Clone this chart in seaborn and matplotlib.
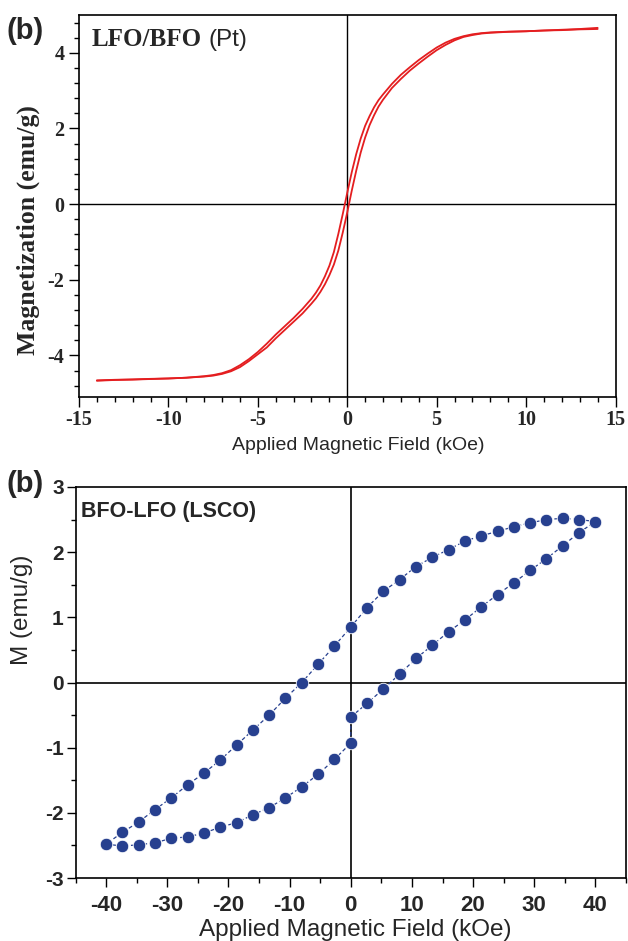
import numpy as np
import pandas as pd
import matplotlib
matplotlib.use("Agg")
import matplotlib.pyplot as plt
from matplotlib.ticker import MultipleLocator
import seaborn as sns

# ---- LFO/BFO grown on Pt: M-H loop (kOe, emu/g) ----
pt_down_field = [14, 13, 12, 11, 10, 9, 8, 7.5, 7, 6.5, 6, 5.5, 5, 4.5, 4, 3.5, 3, 2.5, 2,
                 1.75, 1.5, 1.25, 1, 0.75, 0.5, 0.25, 0, -0.25, -0.5, -0.75, -1, -1.25, -1.5,
                 -1.75, -2, -2.5, -3, -3.5, -4, -4.5, -5, -5.5, -6, -6.5, -7, -7.5, -8, -9,
                 -10, -11, -12, -13, -14]
pt_down_moment = [4.63, 4.62, 4.60, 4.59, 4.57, 4.56, 4.54, 4.52, 4.49, 4.44, 4.37, 4.27,
                  4.14, 3.98, 3.81, 3.62, 3.42, 3.18, 2.90, 2.75, 2.56, 2.33, 2.07, 1.73,
                  1.32, 0.84, 0.30, -0.26, -0.79, -1.27, -1.63, -1.91, -2.15, -2.34, -2.50,
                  -2.77, -3.01, -3.23, -3.45, -3.69, -3.91, -4.10, -4.26, -4.39, -4.47,
                  -4.52, -4.55, -4.59, -4.61, -4.62, -4.635, -4.645, -4.66]
pt_up_field = [-14, -13, -12, -11, -10, -9, -8, -7.5, -7, -6.5, -6, -5.5, -5, -4.5, -4, -3.5,
               -3, -2.5, -2, -1.75, -1.5, -1.25, -1, -0.75, -0.5, -0.25, 0, 0.25, 0.5, 0.75,
               1, 1.25, 1.5, 1.75, 2, 2.5, 3, 3.5, 4, 4.5, 5, 5.5, 6, 6.5, 7, 7.5, 8, 9, 10,
               11, 12, 13, 14]
pt_up_moment = [-4.67, -4.65, -4.64, -4.625, -4.61, -4.59, -4.56, -4.535, -4.49, -4.42,
                -4.31, -4.15, -3.97, -3.79, -3.55, -3.33, -3.11, -2.89, -2.63, -2.49, -2.32,
                -2.12, -1.88, -1.60, -1.23, -0.75, -0.22, 0.35, 0.88, 1.36, 1.76, 2.09, 2.35,
                2.58, 2.76, 3.07, 3.31, 3.53, 3.72, 3.90, 4.07, 4.21, 4.33, 4.42, 4.47, 4.51,
                4.53, 4.555, 4.57, 4.59, 4.61, 4.63, 4.66]

# ---- BFO-LFO grown on LSCO: M-H loop (kOe, emu/g) ----
lsco_down_field = [40, 37.33, 34.67, 32, 29.33, 26.67, 24, 21.33, 18.67, 16, 13.33, 10.67,
                   8, 5.33, 2.67, 0, -2.67, -5.33, -8, -10.67, -13.33, -16, -18.67, -21.33,
                   -24, -26.67, -29.33, -32, -34.67, -37.33, -40]
lsco_down_moment = [2.47, 2.50, 2.52, 2.50, 2.45, 2.39, 2.32, 2.25, 2.17, 2.04, 1.92, 1.78,
                    1.58, 1.40, 1.15, 0.85, 0.56, 0.28, 0.00, -0.24, -0.50, -0.73, -0.96,
                    -1.19, -1.39, -1.57, -1.77, -1.95, -2.14, -2.30, -2.48]
lsco_up_field = [-40, -37.33, -34.67, -32, -29.33, -26.67, -24, -21.33, -18.67, -16, -13.33,
                 -10.67, -8, -5.33, -2.67, 0, 0, 2.67, 5.33, 8, 10.67, 13.33, 16, 18.67,
                 21.33, 24, 26.67, 29.33, 32, 34.67, 37.33, 40]
lsco_up_moment = [-2.48, -2.51, -2.49, -2.46, -2.39, -2.37, -2.31, -2.22, -2.15, -2.03, -1.92,
                  -1.77, -1.60, -1.41, -1.18, -0.93, -0.53, -0.32, -0.10, 0.13, 0.37, 0.57,
                  0.78, 0.96, 1.16, 1.35, 1.53, 1.72, 1.90, 2.10, 2.30, 2.47]

pt_df = pd.concat([
    pd.DataFrame({"H": pt_down_field, "M": pt_down_moment, "branch": "down"}),
    pd.DataFrame({"H": pt_up_field, "M": pt_up_moment, "branch": "up"}),
], ignore_index=True)
lsco_df = pd.concat([
    pd.DataFrame({"H": lsco_down_field, "M": lsco_down_moment, "branch": "down"}),
    pd.DataFrame({"H": lsco_up_field, "M": lsco_up_moment, "branch": "up"}),
], ignore_index=True)

sns.set_style("ticks")
plt.rcParams["axes.unicode_minus"] = False

SERIF = ["Liberation Serif", "DejaVu Serif"]
SANS = ["Liberation Sans", "DejaVu Sans"]
RED = "#e41e20"
BLUE = "#27408f"

W, H = 628, 941
fig = plt.figure(figsize=(W / 100, H / 100), dpi=100)


def px_axes(left, top, right, bottom):
    return fig.add_axes([left / W, 1 - bottom / H, (right - left) / W, (bottom - top) / H])


ax1 = px_axes(79, 15, 615.5, 397)
ax2 = px_axes(75.5, 487, 626, 878)

# ---------------- upper panel ----------------
ax1.axhline(0, color="black", lw=1.0, zorder=1)
ax1.axvline(0, color="black", lw=1.0, zorder=1)
sns.lineplot(data=pt_df, x="H", y="M", units="branch", estimator=None, sort=False,
             color=RED, lw=1.3, ax=ax1, legend=False, zorder=3)
ax1.set_xlim(-15, 15)
ax1.set_ylim(-5.1, 5.0)
ax1.xaxis.set_major_locator(MultipleLocator(5))
ax1.xaxis.set_minor_locator(MultipleLocator(1))
ax1.yaxis.set_major_locator(MultipleLocator(2))
ax1.yaxis.set_minor_locator(MultipleLocator(0.4))
ax1.tick_params(which="major", length=7, width=1.0, direction="out", pad=2.5, color="black")
ax1.tick_params(which="minor", length=3.5, width=1.0, direction="out", color="black")
ax1.tick_params(axis="y", which="major", pad=3.5)
for lab in ax1.get_xticklabels() + ax1.get_yticklabels():
    lab.set_fontfamily(SERIF)
    lab.set_fontweight("bold")
    lab.set_fontsize(14.5)
ax1.set_xlabel("")
ax1.set_ylabel("")
for s in ax1.spines.values():
    s.set_linewidth(1.2)
    s.set_color("black")

fig.text(358 / W, 1 - 446 / H, "Applied Magnetic Field (kOe)", family=SANS, fontsize=14,
         ha="center", va="center")
fig.text(28 / W, 1 - 230 / H, "Magnetization (emu/g)", family=SERIF, fontweight="bold",
         fontsize=18.5, rotation=90, ha="center", va="center")
fig.text(91.5 / W, 1 - 46 / H, "LFO/BFO", family=SERIF, fontweight="bold", fontsize=18,
         va="baseline")
fig.text(208 / W, 1 - 46 / H, "(Pt)", family=SANS, fontsize=17.5, va="baseline")
fig.text(7 / W, 1 - 39 / H, "(b)", family=SANS, fontweight="bold", fontsize=21, va="baseline")

# ---------------- lower panel ----------------
ax2.axhline(0, color="black", lw=1.2, zorder=1)
ax2.axvline(0, color="black", lw=1.2, zorder=1)
sns.lineplot(data=lsco_df, x="H", y="M", units="branch", estimator=None, sort=False,
             color=BLUE, lw=0.9, linestyle=(0, (3, 2)), marker="o", markersize=9,
             markeredgecolor="white", markeredgewidth=0.6, ax=ax2, legend=False, zorder=3)
ax2.set_xlim(-45, 45)
ax2.set_ylim(-3, 3)
ax2.xaxis.set_major_locator(MultipleLocator(10))
ax2.xaxis.set_minor_locator(MultipleLocator(5))
ax2.yaxis.set_major_locator(MultipleLocator(1))
ax2.yaxis.set_minor_locator(MultipleLocator(0.5))
ax2.tick_params(which="major", length=6.5, width=1.0, direction="out", color="black")
ax2.tick_params(which="minor", length=3.5, width=1.0, direction="out", color="black")
ax2.tick_params(axis="x", which="major", pad=6)
ax2.tick_params(axis="y", which="major", pad=2)
for lab in ax2.get_xticklabels():
    lab.set_fontfamily(SANS)
    lab.set_fontweight("bold")
    lab.set_fontsize(16)
for lab in ax2.get_yticklabels():
    lab.set_fontfamily(SANS)
    lab.set_fontweight("bold")
    lab.set_fontsize(15)
ax2.set_xlabel("")
ax2.set_ylabel("")
for s in ax2.spines.values():
    s.set_linewidth(1.2)
    s.set_color("black")

fig.text(355 / W, 1 - 930 / H, "Applied Magnetic Field (kOe)", family=SANS, fontsize=17.5,
         ha="center", va="center")
fig.text(22 / W, 1 - 610 / H, "M (emu/g)", family=SANS, fontsize=17.5, rotation=90,
         ha="center", va="center")
fig.text(81 / W, 1 - 517 / H, "BFO-LFO (LSCO)", family=SANS, fontweight="bold",
         fontsize=15.5, va="baseline")
fig.text(7 / W, 1 - 492 / H, "(b)", family=SANS, fontweight="bold", fontsize=21, va="baseline")

fig.savefig("out.png", dpi=100)
